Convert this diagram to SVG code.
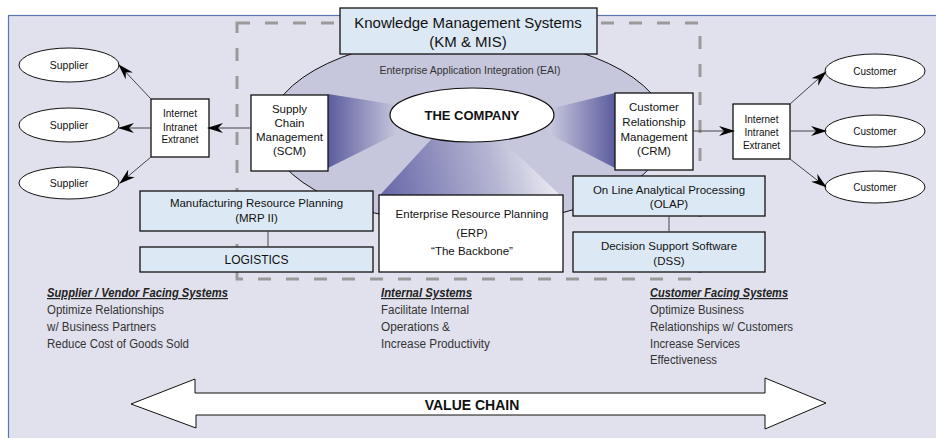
<svg xmlns="http://www.w3.org/2000/svg" width="936" height="438" viewBox="0 0 936 438">
<defs>
<style>
text{font-family:"Liberation Sans",Arial,sans-serif;fill:#111}
.box{stroke:#111;stroke-width:1.3}
.blue{fill:#dce9f5}
.white{fill:#fff}
.c{text-anchor:middle}
.conn{stroke:#444;stroke-width:1;fill:none}
.desc{font-size:12px;fill:#333}
.head{font-size:12px;font-weight:bold;font-style:italic;text-decoration:underline;fill:#222}
</style>
<marker id="ah" markerUnits="userSpaceOnUse" markerWidth="16" markerHeight="11" refX="15" refY="5.5" orient="auto">
<path d="M0,0.5 L16,5.5 L0,10.5 L5,5.5 z" fill="#000"/>
</marker>
<linearGradient id="gl" gradientUnits="userSpaceOnUse" x1="328" y1="0" x2="398" y2="0">
<stop offset="0" stop-color="#5c5c9e"/><stop offset="1" stop-color="#c8c8de"/>
</linearGradient>
<linearGradient id="gr" gradientUnits="userSpaceOnUse" x1="615" y1="0" x2="550" y2="0">
<stop offset="0" stop-color="#5c5c9e"/><stop offset="1" stop-color="#c8c8de"/>
</linearGradient>
<linearGradient id="gb" gradientUnits="userSpaceOnUse" x1="385" y1="190" x2="560" y2="150">
<stop offset="0" stop-color="#6a6aaa"/><stop offset="0.6" stop-color="#b4b4d2"/><stop offset="1" stop-color="#f4f4f8"/>
</linearGradient>
</defs>
<rect x="0" y="0" width="936" height="438" fill="#fff"/>
<rect x="8.5" y="15.5" width="940" height="440" fill="#e1e1ed" stroke="#5a78b0" stroke-width="1.2"/>

<rect x="237" y="23" width="463" height="256" fill="none" stroke="#9a9a9a" stroke-width="3" stroke-dasharray="13 15"/>

<g id="eai">
<ellipse cx="468" cy="130" rx="199" ry="94" fill="#c6c6dc" stroke="#111" stroke-width="1"/>
<text class="c" x="470" y="74" font-size="10.5" style="fill:#333">Enterprise Application Integration (EAI)</text>
</g>

<g id="wedges">
<polygon points="328,94 397,105 400,132 328,168" fill="url(#gl)"/>
<polygon points="615,93 553,108 547,133 615,168" fill="url(#gr)"/>
<polygon points="437,133 497,135 560,195 380,195" fill="url(#gb)"/>
</g>

<g id="company">
<ellipse cx="472" cy="115" rx="82" ry="27" fill="#fff" stroke="#111" stroke-width="1.2"/>
<text class="c" x="472" y="120" font-size="13" font-weight="bold">THE COMPANY</text>
</g>

<g id="km">
<rect class="box blue" x="340" y="8" width="257" height="46"/>
<text class="c" x="468" y="28" font-size="15">Knowledge Management Systems</text>
<text class="c" x="468" y="47" font-size="15">(KM &amp; MIS)</text>
</g>

<g id="scm">
<rect class="box white" x="251" y="95" width="77" height="76"/>
<text class="c" x="289.5" y="113" font-size="11.5">Supply</text>
<text class="c" x="289.5" y="127" font-size="11.5">Chain</text>
<text class="c" x="289.5" y="141" font-size="11.5">Management</text>
<text class="c" x="289.5" y="155" font-size="11.5">(SCM)</text>
</g>

<g id="crm">
<rect class="box white" x="615" y="93" width="78" height="77"/>
<text class="c" x="654" y="111" font-size="11.5">Customer</text>
<text class="c" x="654" y="126" font-size="11.5">Relationship</text>
<text class="c" x="654" y="141" font-size="11.5">Management</text>
<text class="c" x="654" y="155" font-size="11.5">(CRM)</text>
</g>

<g id="net-left">
<rect class="box white" x="151" y="99" width="58" height="58"/>
<text class="c" x="180" y="117" font-size="10">Internet</text>
<text class="c" x="180" y="131" font-size="10">Intranet</text>
<text class="c" x="180" y="143" font-size="10">Extranet</text>
</g>

<g id="net-right">
<rect class="box white" x="733" y="104" width="57" height="55"/>
<text class="c" x="761.5" y="123" font-size="10">Internet</text>
<text class="c" x="761.5" y="136" font-size="10">Intranet</text>
<text class="c" x="761.5" y="149" font-size="10">Extranet</text>
</g>

<g id="supplier1"><ellipse cx="69" cy="65" rx="50" ry="17" fill="#fff" stroke="#111"/><text class="c" x="69" y="69" font-size="10.5">Supplier</text></g>
<g id="supplier2"><ellipse cx="69" cy="125" rx="50" ry="17" fill="#fff" stroke="#111"/><text class="c" x="69" y="129" font-size="10.5">Supplier</text></g>
<g id="supplier3"><ellipse cx="69" cy="183" rx="50" ry="16" fill="#fff" stroke="#111"/><text class="c" x="69" y="187" font-size="10.5">Supplier</text></g>

<g id="customer1"><ellipse cx="875" cy="71" rx="50" ry="17" fill="#fff" stroke="#111"/><text class="c" x="875" y="75" font-size="10">Customer</text></g>
<g id="customer2"><ellipse cx="875" cy="131" rx="50" ry="16" fill="#fff" stroke="#111"/><text class="c" x="875" y="135" font-size="10">Customer</text></g>
<g id="customer3"><ellipse cx="875" cy="187" rx="50" ry="16" fill="#fff" stroke="#111"/><text class="c" x="875" y="191" font-size="10">Customer</text></g>

<g id="mrp">
<rect class="box blue" x="140" y="191" width="233" height="40"/>
<text class="c" x="256.5" y="207" font-size="11.5">Manufacturing Resource Planning</text>
<text class="c" x="256.5" y="222" font-size="11.5">(MRP II)</text>
</g>

<g id="logistics">
<rect class="box blue" x="140" y="247" width="233" height="25"/>
<text class="c" x="256.5" y="264" font-size="12">LOGISTICS</text>
</g>

<g id="erp">
<rect class="box white" x="379" y="195" width="184" height="77"/>
<text class="c" x="472" y="218" font-size="11.5">Enterprise Resource Planning</text>
<text class="c" x="472" y="237" font-size="11.5">(ERP)</text>
<text class="c" x="472" y="255" font-size="11.5">“The Backbone”</text>
</g>

<g id="olap">
<rect class="box blue" x="573" y="176" width="192" height="40"/>
<text class="c" x="669" y="194" font-size="11.5">On Line Analytical Processing</text>
<text class="c" x="669" y="208" font-size="11.5">(OLAP)</text>
</g>

<g id="dss">
<rect class="box blue" x="573" y="232" width="192" height="40"/>
<text class="c" x="669" y="250" font-size="11.5">Decision Support Software</text>
<text class="c" x="669" y="265" font-size="11.5">(DSS)</text>
</g>

<g id="connectors">
<line class="conn" x1="251" y1="128" x2="208" y2="128" marker-end="url(#ah)"/>
<line class="conn" x1="151" y1="99" x2="119" y2="65" marker-end="url(#ah)"/>
<line class="conn" x1="151" y1="128" x2="119" y2="128" marker-end="url(#ah)"/>
<line class="conn" x1="151" y1="157" x2="120" y2="183" marker-end="url(#ah)"/>
<line class="conn" x1="693" y1="131" x2="734" y2="131" marker-end="url(#ah)"/>
<line class="conn" x1="790" y1="104" x2="826" y2="72" marker-end="url(#ah)"/>
<line class="conn" x1="790" y1="131" x2="826" y2="131" marker-end="url(#ah)"/>
<line class="conn" x1="790" y1="159" x2="826" y2="187" marker-end="url(#ah)"/>
<line class="conn" x1="268" y1="231" x2="268" y2="247"/>
<line class="conn" x1="669" y1="216" x2="669" y2="232"/>
</g>

<g id="supplier-text">
<text class="head" x="47" y="297" textLength="181" lengthAdjust="spacingAndGlyphs">Supplier / Vendor Facing Systems</text>
<text class="desc" x="47" y="314" textLength="117" lengthAdjust="spacingAndGlyphs">Optimize Relationships</text>
<text class="desc" x="47" y="331" textLength="109" lengthAdjust="spacingAndGlyphs">w/ Business Partners</text>
<text class="desc" x="47" y="348" textLength="142" lengthAdjust="spacingAndGlyphs">Reduce Cost of Goods Sold</text>
</g>
<g id="internal-text">
<text class="head" x="381" y="297" textLength="91" lengthAdjust="spacingAndGlyphs">Internal Systems</text>
<text class="desc" x="381" y="314" textLength="88" lengthAdjust="spacingAndGlyphs">Facilitate Internal</text>
<text class="desc" x="381" y="331" textLength="69" lengthAdjust="spacingAndGlyphs">Operations &amp;</text>
<text class="desc" x="381" y="348" textLength="109" lengthAdjust="spacingAndGlyphs">Increase Productivity</text>
</g>
<g id="customer-text">
<text class="head" x="650" y="297" textLength="138" lengthAdjust="spacingAndGlyphs">Customer Facing Systems</text>
<text class="desc" x="650" y="314" textLength="94" lengthAdjust="spacingAndGlyphs">Optimize Business</text>
<text class="desc" x="650" y="331" textLength="143" lengthAdjust="spacingAndGlyphs">Relationships w/ Customers</text>
<text class="desc" x="650" y="348" textLength="90" lengthAdjust="spacingAndGlyphs">Increase Services</text>
<text class="desc" x="650" y="364" textLength="67" lengthAdjust="spacingAndGlyphs">Effectiveness</text>
</g>

<g id="value-chain">
<polygon points="131,404 195,379 195,393 765,393 765,378 826,403 765,429 765,415 196,415 196,428" fill="#fff" stroke="#111" stroke-width="1"/>
<text class="c" x="472" y="410" font-size="14" font-weight="bold">VALUE CHAIN</text>
</g>
</svg>
